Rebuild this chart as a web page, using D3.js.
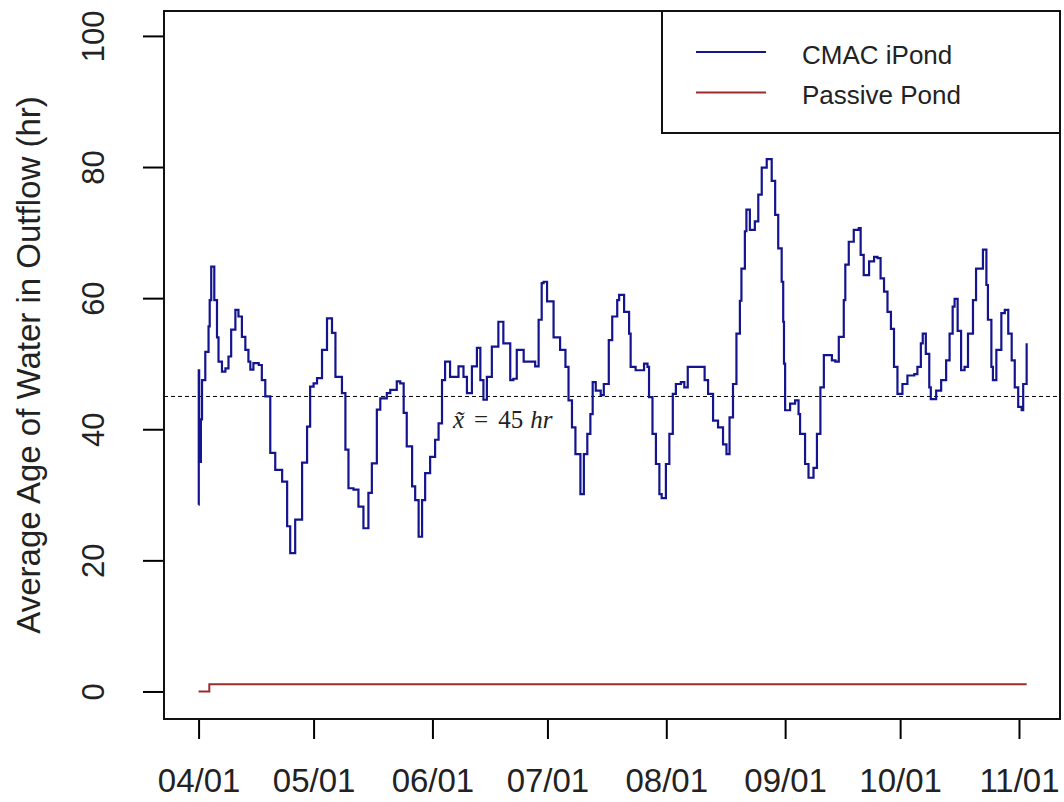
<!DOCTYPE html>
<html><head><meta charset="utf-8">
<script src="https://cdn.jsdelivr.net/npm/d3@7"></script>
<style>body{margin:0;background:#fff}svg{display:block}</style>
</head><body>
<svg id="chart" width="1064" height="802"></svg>
<script>
// ---- data (day offset from 04/01) ----
const ipondDays = [0,0.05,0.15,0.6,0.9,1.75,2.6,2.9,3.3,4.1,4.8,5.2,6.1,7.0,7.8,8.5,9.6,10.4,11.3,12.2,13.0,13.5,14.3,15.7,16.5,17.4,18.7,20.0,21.8,23.1,23.9,25.2,27.0,28.3,29.1,30.0,30.9,32.2,33.5,34.8,35.7,37.4,38.3,39.1,40.4,41.7,43.0,44.3,45.2,46.5,47.4,49.1,50.0,51.7,52.6,53.5,54.3,55.7,56.5,57.4,58.3,59.1,60.4,61.7,62.6,63.5,64.3,65.6,66.5,67.8,69.1,70.0,71.3,72.6,73.5,74.3,75.2,76.5,78.2,79.5,81.3,82.1,83.0,84.8,87.8,88.7,89.5,90.0,90.9,92.6,94.3,95.7,96.5,97.4,98.3,99.6,100.5,101.4,102.2,102.8,103.6,104.9,105.7,107.0,107.9,109.2,109.7,111.0,112.3,112.7,114.0,116.2,117.1,117.5,118.4,119.3,120.2,120.8,121.9,122.8,123.7,124.5,125.8,126.7,127.6,131.1,132.0,132.9,134.2,135.5,136.8,137.7,138.5,139.4,140.3,141.2,141.6,142.5,142.9,143.8,145.1,146.0,146.9,148.2,149.5,150.4,151.2,152.1,152.5,152.7,153.0,154.3,155.6,156.5,156.9,158.2,159.1,160.4,161.3,162.2,163.1,165.2,166.1,167.0,168.3,168.7,169.6,170.9,172.2,172.7,173.5,174.9,176.2,177.1,177.9,178.8,179.7,180.6,181.4,182.3,183.6,184.9,186.7,187.5,188.4,188.9,189.7,190.6,191.0,192.4,193.7,195.0,195.9,196.7,197.2,198.0,198.9,199.8,200.7,202.0,202.8,204.6,205.5,205.9,206.8,207.2,208.1,209.4,210.3,211.2,212.1,212.9,213.8,214.7,215.1,216.0];
const ipondValues = [28.5,49,35,41.5,47.5,51.8,55.7,59.7,64.8,59.7,54,50.3,48.8,49.3,51.1,55.2,58.2,57.2,54.1,52.1,50.3,49.1,50.1,49.8,47.5,45,36.4,33.8,32,25.2,21.1,26.2,34.9,40.4,46.5,47,47.8,52.1,56.9,54.7,48,45.5,36.9,31,30.8,28.2,24.9,30.3,34.8,43,44.7,45.5,46,47.3,47,42.5,37.4,31.3,29.2,23.6,29.2,33.3,35.8,38.4,40.9,47.5,50.3,48,48,49.6,48,45.5,49.6,52.4,47.5,44.5,48,52.6,56.4,53.1,47.5,47.7,52.1,50.3,49.6,56.7,62.3,62.5,59.5,54,52.1,49.5,44.4,40.3,36.2,30.1,36.2,39.3,42.3,47.2,45.9,45.2,46.9,53.6,57.2,59.7,60.5,57.9,54.6,49.5,49,50,49.5,44.9,39.3,34.7,30.1,29.5,34.7,39.3,45.4,46.9,47.2,46.4,49.5,49.5,47.5,45.4,41.3,40.3,37.7,36.2,41.8,46.9,54.6,59.6,64.5,70.2,73.5,70.4,71.7,75.8,79.9,81.2,77.9,72.7,67.6,62.5,56.4,50,42.9,43.9,44.4,42.3,39.3,34.7,32.6,34.1,39.3,46.4,51.3,50.5,50.3,54.1,59.7,65.1,68.6,70.4,70.7,66.6,63.5,65.6,66.3,66.1,63,61,57.9,55.3,49.5,45.4,46.9,48.2,48.4,49.5,53.1,54.6,51.5,46.4,44.6,45.9,47.5,50.5,54.6,58.7,59.9,55,49,49.5,54.6,59.7,64.5,67.4,62,56.7,49.5,47.5,52.1,57.7,58.2,54.6,50.5,46.4,43.4,42.9,46.9,53.1];
const passiveDays = [0, 2.8, 216];
const passiveValues = [0, 1.1, 1.1];
const tickDays = [0, 30, 61, 91, 122, 153, 183, 214];
const tickLabels = ["04/01","05/01","06/01","07/01","08/01","09/01","10/01","11/01"];
const yTickValues = [0, 20, 40, 60, 80, 100];
const medianValue = 45;
const seriesNames = ["CMAC iPond", "Passive Pond"];
const seriesColors = ["#14148f", "#9e2b2b"];
const yTitle = "Average Age of Water in Outflow (hr)";

// ---- layout ----
const L = 164, R = 1060, T = 11, B = 719;
const svg = d3.select("#chart");
const x = d3.scaleLinear().domain([-9.02, 224.7]).range([L, R]);
const y = d3.scaleLinear().domain([-4.2, 103.8]).range([B, T]);
const sans = "'Liberation Sans', Arial, sans-serif";

const line = d3.line().x(d => x(d[0])).y(d => y(d[1])).curve(d3.curveStepAfter);
const ipond = ipondDays.map((d, i) => [d, ipondValues[i]]);
const passive = passiveDays.map((d, i) => [d, passiveValues[i]]);

// median dashed line
svg.append("line")
  .attr("x1", L).attr("x2", R).attr("y1", y(medianValue)).attr("y2", y(medianValue))
  .attr("stroke", "#000").attr("stroke-width", 1).attr("stroke-dasharray", "4,3");

svg.append("path").datum(passive).attr("d", line)
  .attr("fill", "none").attr("stroke", seriesColors[1]).attr("stroke-width", 2);
svg.append("path").datum(ipond).attr("d", line)
  .attr("fill", "none").attr("stroke", seriesColors[0]).attr("stroke-width", 2.2)
  .attr("stroke-linejoin", "miter");

// median label
const ml = svg.append("text").attr("x", 453).attr("y", y(medianValue) + 32)
  .attr("font-family", "'Liberation Serif', 'DejaVu Serif', serif").attr("font-size", 25).attr("fill", "#222");
ml.append("tspan").attr("font-style", "italic").text("x\u0303");
ml.append("tspan").attr("dx", 10).text("=");
ml.append("tspan").attr("dx", 10).text("45");
ml.append("tspan").attr("dx", 7).attr("font-style", "italic").text("hr");

// axes
const xAxis = d3.axisBottom(x).tickValues(tickDays).tickFormat((d, i) => tickLabels[i])
  .tickSize(20).tickPadding(32);
const gx = svg.append("g").attr("transform", `translate(0,${B})`).call(xAxis);
gx.select(".domain").remove();
gx.selectAll(".tick line").attr("stroke", "#000").attr("stroke-width", 2);
gx.selectAll(".tick text").attr("font-family", sans).attr("font-size", 33).attr("fill", "#222")
  .attr("dy", null).attr("y", 73);

const yAxis = d3.axisLeft(y).tickValues(yTickValues).tickSize(21);
const gy = svg.append("g").attr("transform", `translate(${L},0)`).call(yAxis);
gy.select(".domain").remove();
gy.selectAll(".tick line").attr("stroke", "#000").attr("stroke-width", 2);
gy.selectAll(".tick text").attr("font-family", sans).attr("font-size", 31).attr("fill", "#222")
  .attr("x", null).attr("dy", null).attr("text-anchor", "middle")
  .attr("transform", `translate(${104 - L},0) rotate(-90)`).attr("y", 0);

// y title
svg.append("text").attr("transform", `translate(40,${(T + B) / 2}) rotate(-90)`)
  .attr("text-anchor", "middle").attr("font-family", sans).attr("font-size", 33).attr("fill", "#222")
  .text(yTitle);

// plot box
svg.append("rect").attr("x", L).attr("y", T).attr("width", R - L).attr("height", B - T)
  .attr("fill", "none").attr("stroke", "#111").attr("stroke-width", 2);

// legend
const lg = svg.append("g");
lg.append("rect").attr("x", 662).attr("y", T).attr("width", R - 662).attr("height", 133 - T)
  .attr("fill", "#fff").attr("stroke", "#111").attr("stroke-width", 2);
seriesNames.forEach((name, i) => {
  const cy = 52 + i * 40.5;
  lg.append("line").attr("x1", 696).attr("x2", 766).attr("y1", cy).attr("y2", cy)
    .attr("stroke", seriesColors[i]).attr("stroke-width", 2);
  lg.append("text").attr("x", 802).attr("y", cy + 11.5).attr("font-family", sans)
    .attr("font-size", 26).attr("fill", "#222").text(name);
});
</script>
</body></html>
